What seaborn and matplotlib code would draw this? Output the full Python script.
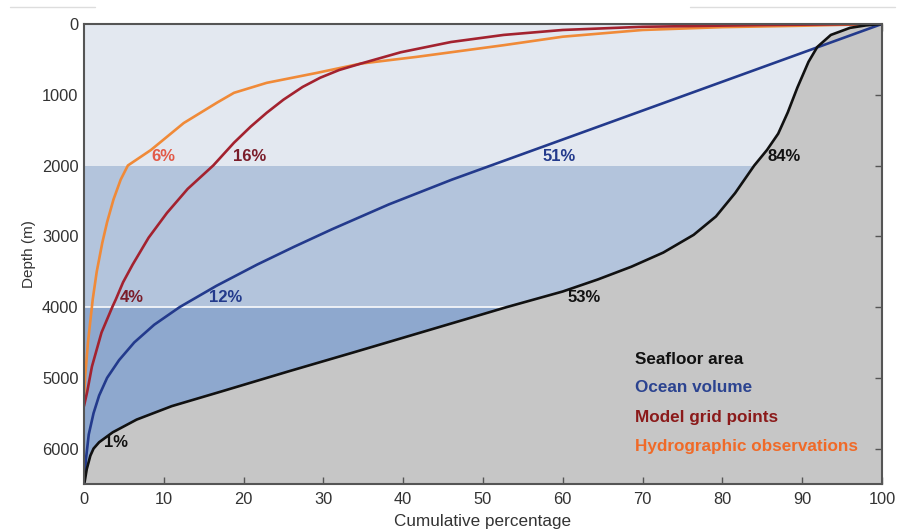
import numpy as np
import pandas as pd
import matplotlib.pyplot as plt
import seaborn as sns
from matplotlib.lines import Line2D

# cumulative percentage vs depth (m)
sea_pct = [100, 98, 96, 93.6, 91.9, 90.8, 89.4, 88.2, 87.0, 85.6, 84.0, 81.6, 79.2,
           76.4, 72.6, 68.6, 64.4, 60.0, 53.0, 50.6, 42.2, 33.8, 25.6, 17.3,
           11.0, 6.6, 3.6, 1.9, 1.2, 0.8, 0.35, 0.1, 0.0]
sea_depth = [0, 20, 55, 155, 325, 535, 900, 1250, 1550, 1780, 2000, 2390, 2720,
             2980, 3230, 3430, 3610, 3780, 4000, 4080, 4360, 4640, 4910, 5190,
             5400, 5590, 5770, 5910, 6000, 6100, 6290, 6460, 6500]

vol_pct = [100, 75.5, 51.0, 46.1, 38.2, 31.1, 26.3, 21.7, 16.6, 12.0, 8.8, 6.3,
           4.4, 2.9, 1.9, 1.2, 0.6, 0.25, 0.0]
vol_depth = [0, 1000, 2000, 2200, 2550, 2900, 3150, 3400, 3700, 4000, 4250, 4500,
             4750, 5000, 5250, 5500, 5800, 6150, 6500]

grid_pct = [100, 85, 70, 60, 52.6, 46.0, 39.7, 34.7, 32.0, 29.6, 27.4, 25.0, 22.9,
            20.9, 18.8, 16.2, 13.0, 10.4, 8.1, 6.1, 4.9, 4.0, 3.55, 2.2, 1.0, 0.4, 0.0]
grid_depth = [0, 15, 40, 85, 155, 255, 400, 560, 650, 760, 890, 1070, 1255,
              1450, 1678, 2000, 2330, 2670, 3020, 3400, 3650, 3890, 4000, 4360,
              4840, 5200, 5400]

obs_pct = [100, 90, 80, 70, 60, 52.6, 41.7, 34.7, 29.2, 22.9, 18.8, 16.7,
           12.5, 8.4, 5.5, 4.6, 3.7, 2.9, 2.3, 1.6, 1.1, 0.5, 0.15, 0.0]
obs_depth = [0, 25, 45, 85, 180, 300, 465, 560, 691, 832, 973, 1110,
             1400, 1780, 2000, 2200, 2480, 2800, 3090, 3500, 3890, 4500, 4980, 5300]

# percentage labels: (text, x, depth, color)
labels = [("6%", 9.9, 1875, "#e25a48"), ("16%", 20.8, 1875, "#7a1d2a"),
          ("51%", 59.6, 1875, "#233a8c"), ("84%", 87.8, 1875, "#111111"),
          ("4%", 6.0, 3865, "#7a1d2a"), ("12%", 17.8, 3865, "#233a8c"),
          ("53%", 62.7, 3865, "#111111"), ("1%", 4.0, 5910, "#111111")]

series = ["Seafloor area", "Ocean volume", "Model grid points", "Hydrographic observations"]
legend_depth = [4740, 5135, 5557, 5966]
line_colors = ["#111111", "#233a8c", "#a3222f", "#f08a38"]
text_colors = ["#111111", "#2b4390", "#8b1a1a", "#f06a28"]

sns.set_theme(style="white")
plt.rcParams['font.family'] = ['Liberation Sans', 'DejaVu Sans']

fig = plt.figure(figsize=(8.98, 5.30), dpi=100)
ax = fig.add_axes([0.0935, 0.0868, 0.8886, 0.868])
ax.set_facecolor("#c6c6c6")

d = np.array(sea_depth)
p = np.array(sea_pct)
ax.fill_betweenx(d, 0, p, where=d <= 2000, color="#e3e8f0", lw=0)
ax.fill_betweenx(d, 0, p, where=(d >= 2000) & (d <= 4000), color="#b3c4dc", lw=0)
ax.fill_betweenx(d, 0, p, where=d >= 4000, color="#8ea8ce", lw=0)
ax.plot([0, p[d == 4000][0]], [4000, 4000], color="white", lw=1.2, alpha=0.9)

curves = pd.concat([
    pd.DataFrame({"pct": sea_pct, "depth": sea_depth, "series": series[0]}),
    pd.DataFrame({"pct": vol_pct, "depth": vol_depth, "series": series[1]}),
    pd.DataFrame({"pct": grid_pct, "depth": grid_depth, "series": series[2]}),
    pd.DataFrame({"pct": obs_pct, "depth": obs_depth, "series": series[3]}),
])
for name, col in zip(series[::-1], line_colors[::-1]):
    sns.lineplot(data=curves[curves.series == name], x="pct", y="depth",
                 sort=False, estimator=None, color=col, lw=1.9, ax=ax)

for txt, x, y, c in labels:
    ax.text(x, y, txt, color=c, fontsize=12, fontweight="bold", ha="center", va="center")

for name, c, y in zip(series, text_colors, legend_depth):
    ax.text(69.0, y, name, color=c, fontsize=12.3, fontweight="bold",
            ha="left", va="center")

ax.set_xlim(0, 100)
ax.set_ylim(6500, 0)
ax.set_xticks(range(0, 101, 10))
ax.set_yticks(range(0, 6001, 1000))
ax.tick_params(direction="in", length=5, width=1, color="#555555", labelcolor="#333333",
               labelsize=11.8, top=True, right=True, left=True, bottom=True,
               labeltop=False, labelright=False)
ax.tick_params(axis="x", pad=6)
ax.tick_params(axis="y", pad=4)
for s in ax.spines.values():
    s.set_color("#555555")
    s.set_linewidth(1.5)
ax.set_xlabel("Cumulative percentage", fontsize=12.3, color="#333333", labelpad=5)
ax.set_ylabel("Depth (m)", fontsize=11, color="#333333", labelpad=4)

fig.add_artist(Line2D([0.011, 0.106], [0.987, 0.987], color="#dddddd", lw=1))
fig.add_artist(Line2D([0.768, 0.997], [0.987, 0.987], color="#dddddd", lw=1))

fig.savefig("out.png", dpi=100)
